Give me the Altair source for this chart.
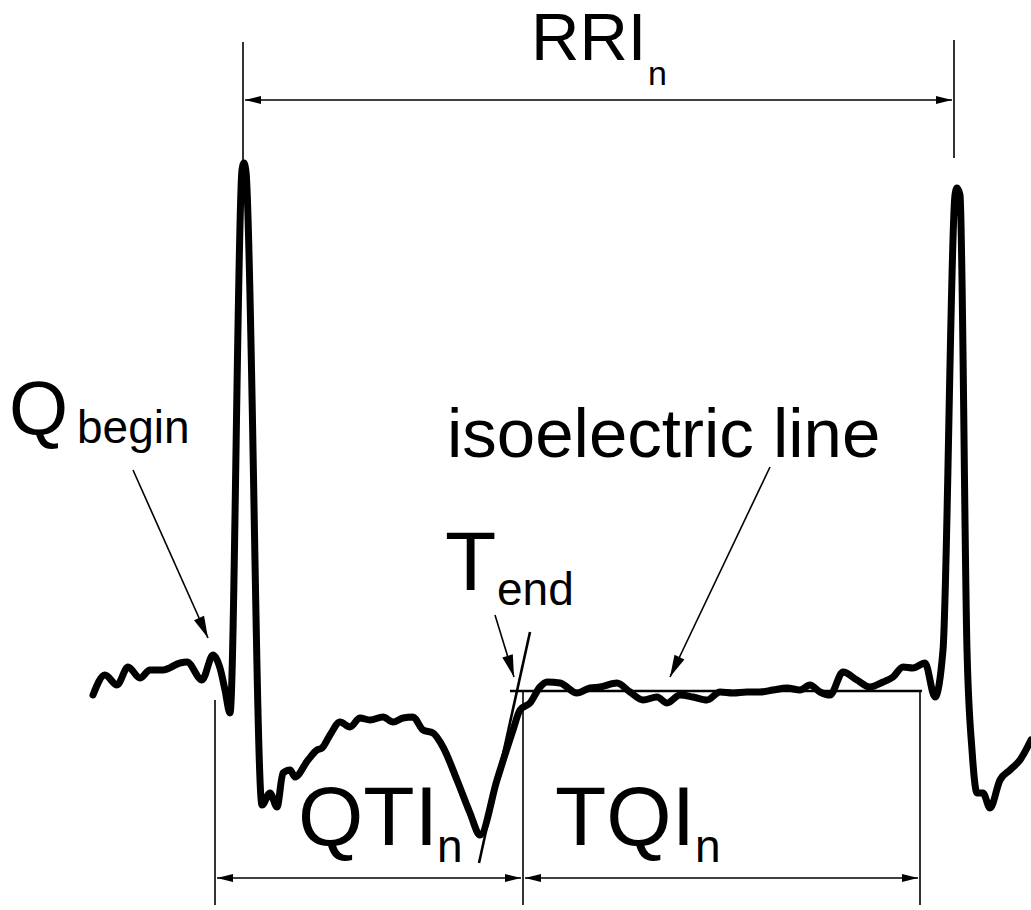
import math
import altair as alt
import pandas as pd

# ECG trace (horizontal position, vertical position; y grows downward)
wave_x = [93, 105, 117, 128, 140, 150, 163, 180, 187, 202, 213, 220, 225, 230, 242, 244, 246, 262,
          270, 277, 283, 290, 295, 308, 317, 322, 330, 340, 350, 360, 370, 383, 393, 403, 413, 423,
          433, 443, 457, 470, 480, 497, 513, 520, 530, 540, 547, 560, 577, 590, 600, 617, 630, 643,
          657, 667, 680, 693, 707, 720, 733, 747, 760, 773, 787, 800, 810, 820, 830, 843, 857, 870,
          883, 893, 903, 913, 925, 935, 943, 955, 957, 960, 967, 972, 977, 983, 990, 1000, 1010,
          1020, 1031]
wave_y = [695, 675, 685, 667, 678, 670, 670, 663, 662, 680, 655, 668, 690, 713, 170, 163, 172, 805,
          793, 807, 773, 770, 777, 760, 750, 748, 735, 722, 727, 718, 720, 717, 722, 718, 717, 730,
          733, 747, 780, 813, 835, 780, 730, 710, 703, 687, 682, 683, 693, 688, 687, 683, 692, 700,
          697, 703, 695, 697, 700, 692, 693, 692, 692, 690, 688, 690, 685, 692, 695, 672, 680, 687,
          682, 677, 667, 668, 663, 697, 650, 195, 188, 195, 650, 750, 793, 793, 808, 780, 770,
          760, 740]

# thin guide / dimension lines: x1, y1, x2, y2
thin_x1 = [243, 954, 245, 215, 523, 920, 217, 525, 133, 495, 770]
thin_y1 = [42, 40, 100, 700, 690, 692, 878, 878, 470, 615, 467]
thin_x2 = [243, 954, 952, 215, 523, 920, 521, 918, 208, 514, 670]
thin_y2 = [165, 158, 100, 905, 905, 905, 878, 878, 638, 677, 677]
# arrow heads on thin lines: at start / at end
head_start = [False, False, True, False, False, False, True, True, False, False, False]
head_end = [False, False, True, False, False, False, True, True, True, True, True]

# thicker lines: isoelectric line and T-end tangent
thick_x1 = [510, 530]
thick_y1 = [691, 632]
thick_x2 = [922, 479]
thick_y2 = [691, 863]

# labels
label_text = ["RRI", "n", "Q", "begin", "isoelectric line", "T", "end", "QTI", "n", "TQI", "n"]
label_x = [531, 648, 9, 77, 447, 445, 497, 298, 437, 555, 695]
label_y = [60, 85, 434, 443, 457, 590, 605, 845, 862, 845, 862]
label_size = [67, 34, 76, 46, 69, 84, 46, 84, 46, 84, 46]

wave = pd.DataFrame({"x": wave_x, "y": wave_y, "i": range(len(wave_x))})
thin = pd.DataFrame({"x": thin_x1, "y": thin_y1, "x2": thin_x2, "y2": thin_y2})
thick = pd.DataFrame({"x": thick_x1, "y": thick_y1, "x2": thick_x2, "y2": thick_y2})
labels = pd.DataFrame({"t": label_text, "x": label_x, "y": label_y, "s": label_size})

heads = []
for x1, y1, x2, y2, hs, he in zip(thin_x1, thin_y1, thin_x2, thin_y2, head_start, head_end):
    diag = (x1 != x2) and (y1 != y2)
    size = 484 if diag else 256
    if he:
        a = math.degrees(math.atan2(x2 - x1, -(y2 - y1))) % 360
        heads.append({"x": x2, "y": y2, "a": a, "s": size})
    if hs:
        a = math.degrees(math.atan2(x1 - x2, -(y1 - y2))) % 360
        heads.append({"x": x1, "y": y1, "a": a, "s": size})
heads = pd.DataFrame(heads)

xs = alt.Scale(domain=[0, 1031], nice=False, zero=False)
ys = alt.Scale(domain=[0, 910], nice=False, zero=False, reverse=True)
X = lambda f="x": alt.X(f + ":Q", scale=xs, axis=None)
Y = lambda f="y": alt.Y(f + ":Q", scale=ys, axis=None)

wave_layer = alt.Chart(wave).mark_line(
    color="black", strokeWidth=7, strokeJoin="round", strokeCap="round", interpolate="monotone"
).encode(x=X(), y=Y(), order="i:Q")

thin_layer = alt.Chart(thin).mark_rule(color="black", strokeWidth=1.6).encode(
    x=X(), y=Y(), x2="x2:Q", y2="y2:Q")

thick_layer = alt.Chart(thick).mark_rule(color="black", strokeWidth=2.6).encode(
    x=X(), y=Y(), x2="x2:Q", y2="y2:Q")

head_layer = alt.Chart(heads).mark_point(
    shape="M0,0L0.5,2L-0.5,2Z", filled=True, color="black", opacity=1, strokeWidth=0
).encode(x=X(), y=Y(), angle=alt.Angle("a:Q", scale=None), size=alt.Size("s:Q", scale=None))

text_layer = alt.Chart(labels).mark_text(
    font="Liberation Sans", align="left", baseline="alphabetic", color="black"
).encode(x=X(), y=Y(), text="t:N", size=alt.Size("s:Q", scale=None))

chart = alt.layer(thin_layer, thick_layer, wave_layer, head_layer, text_layer).properties(
    width=1031, height=910, autosize=alt.AutoSizeParams(type="none"), padding=0,
    background="white"
).configure_view(stroke=None)

chart.save("out.html", embed_options={"renderer": "svg", "actions": False})
